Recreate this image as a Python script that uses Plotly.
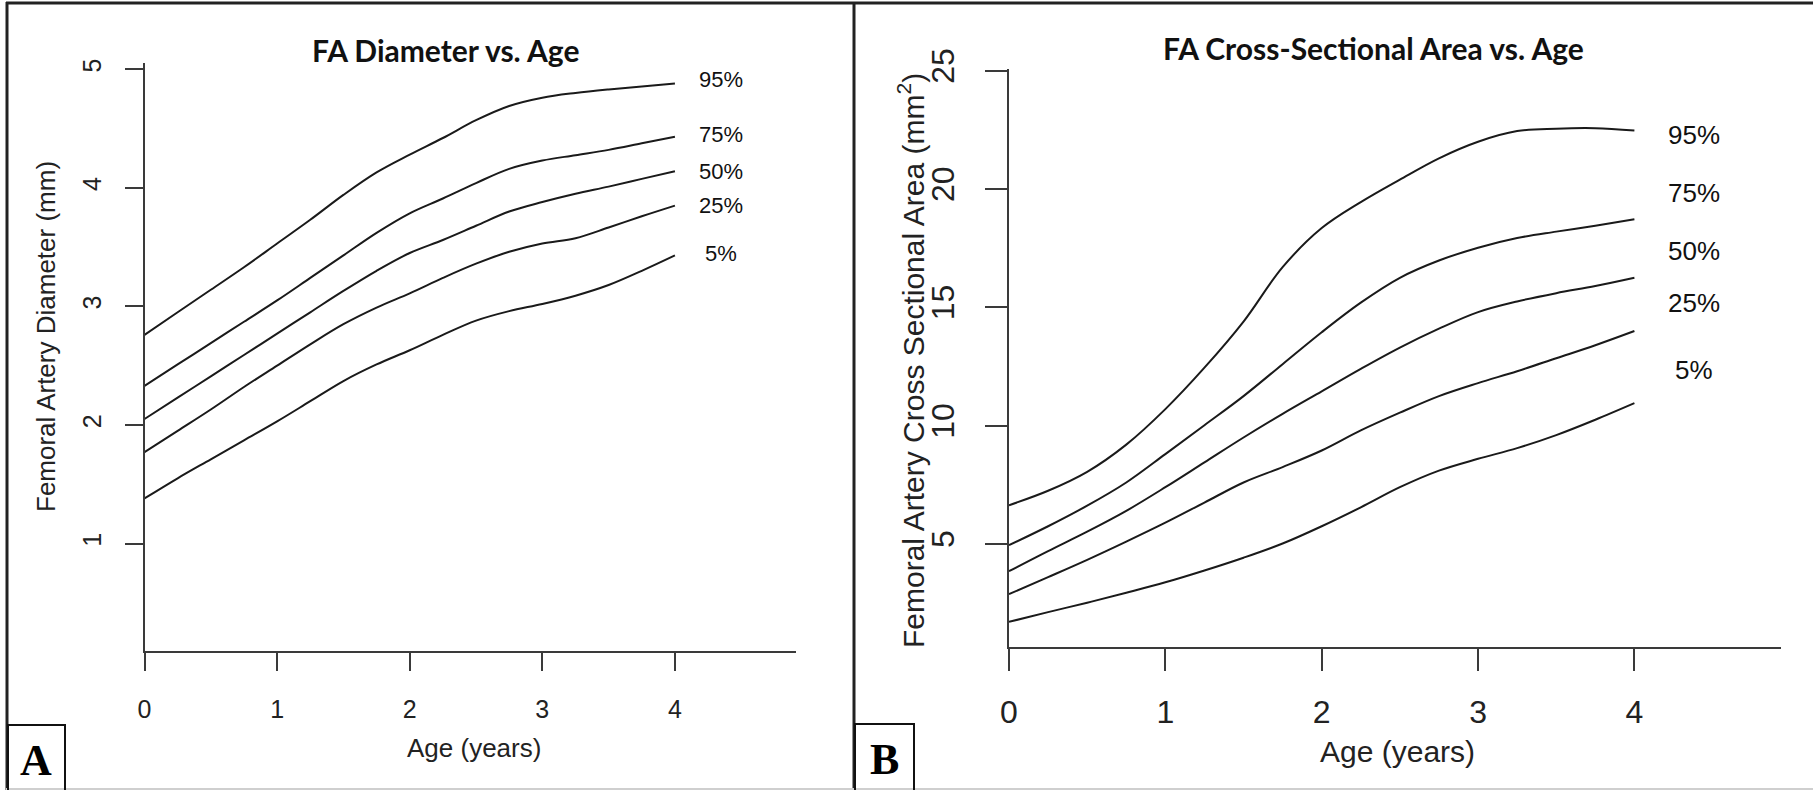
import plotly.graph_objects as go

W, H = 1813, 790

# ---------------- data ----------------
pct_labels = ["95%", "75%", "50%", "25%", "5%"]

age_a = [0, 0.25, 0.5, 0.75, 1, 1.25, 1.5, 1.75, 2, 2.25, 2.5, 2.75, 3, 3.25, 3.5, 3.75, 4]
dia_95 = [2.76, 2.95, 3.14, 3.33, 3.53, 3.73, 3.94, 4.13, 4.28, 4.42, 4.57, 4.69, 4.76, 4.80, 4.83, 4.855, 4.88]
dia_75 = [2.33, 2.51, 2.69, 2.87, 3.05, 3.24, 3.43, 3.62, 3.785, 3.91, 4.04, 4.16, 4.23, 4.275, 4.32, 4.375, 4.43]
dia_50 = [2.05, 2.23, 2.41, 2.59, 2.77, 2.95, 3.13, 3.30, 3.45, 3.56, 3.68, 3.80, 3.88, 3.95, 4.01, 4.075, 4.14]
dia_25 = [1.77, 1.95, 2.13, 2.32, 2.50, 2.68, 2.85, 2.99, 3.11, 3.24, 3.36, 3.46, 3.53, 3.575, 3.665, 3.76, 3.85]
dia_05 = [1.38, 1.55, 1.71, 1.87, 2.03, 2.20, 2.37, 2.51, 2.63, 2.76, 2.88, 2.96, 3.02, 3.09, 3.18, 3.30, 3.43]

age_b = [0, 0.25, 0.5, 0.75, 1, 1.25, 1.5, 1.75, 2, 2.25, 2.5, 2.75, 3, 3.25, 3.5, 3.75, 4]
area_95 = [6.64, 7.25, 8.05, 9.2, 10.7, 12.45, 14.4, 16.7, 18.35, 19.45, 20.4, 21.3, 22.0, 22.45, 22.55, 22.57, 22.47]
area_75 = [4.95, 5.75, 6.62, 7.6, 8.8, 10.02, 11.25, 12.6, 13.95, 15.2, 16.25, 16.98, 17.52, 17.93, 18.2, 18.45, 18.72]
area_50 = [3.85, 4.7, 5.52, 6.4, 7.4, 8.45, 9.5, 10.5, 11.45, 12.4, 13.3, 14.1, 14.8, 15.25, 15.6, 15.9, 16.25]
area_25 = [2.88, 3.6, 4.33, 5.1, 5.9, 6.75, 7.6, 8.25, 8.95, 9.8, 10.55, 11.25, 11.8, 12.3, 12.85, 13.4, 14.0]
area_05 = [1.71, 2.12, 2.52, 2.94, 3.38, 3.88, 4.42, 5.02, 5.75, 6.55, 7.4, 8.1, 8.6, 9.05, 9.6, 10.25, 10.95]

x_ticks = [0, 1, 2, 3, 4]
y_ticks_a = [1, 2, 3, 4, 5]
y_ticks_b = [5, 10, 15, 20, 25]

dia_series = [dia_95, dia_75, dia_50, dia_25, dia_05]
area_series = [area_95, area_75, area_50, area_25, area_05]

# ---------------- helpers ----------------
def px(x):
    return x / W

def py(y):
    return 1 - y / H

LINE = "#1a1a1a"
AXC = "#3a3a3a"
SANS = "Liberation Sans, Arial, sans-serif"
TITLEF = "Lato, Open Sans, sans-serif"

fig = go.Figure()

for s, lab in zip(dia_series, pct_labels):
    fig.add_trace(go.Scatter(x=age_a, y=s, mode="lines", name=lab,
                             line=dict(color=LINE, width=2, shape="spline", smoothing=1.0),
                             xaxis="x", yaxis="y", showlegend=False, hoverinfo="skip"))
for s, lab in zip(area_series, pct_labels):
    fig.add_trace(go.Scatter(x=age_b, y=s, mode="lines", name=lab,
                             line=dict(color=LINE, width=2, shape="spline", smoothing=1.0),
                             xaxis="x2", yaxis="y2", showlegend=False, hoverinfo="skip"))

# percentile labels
lab_off_a = [0.03, 0.02, 0.0, 0.0, 0.02]
lab_off_b = [-0.2, 1.1, 1.12, 1.2, 1.42]
annos = []
for s, lab, o in zip(dia_series, pct_labels, lab_off_a):
    annos.append(dict(x=4.35, y=s[-1] + o, xref="x", yref="y", text=lab, showarrow=False,
                      font=dict(family=SANS, size=22, color="#111"), xanchor="center", yanchor="middle"))
for s, lab, o in zip(area_series, pct_labels, lab_off_b):
    annos.append(dict(x=4.38, y=s[-1] + o, xref="x2", yref="y2", text=lab, showarrow=False,
                      font=dict(family=SANS, size=26, color="#111"), xanchor="center", yanchor="middle"))

# titles
annos.append(dict(x=px(445), y=py(50), xref="paper", yref="paper", text="<b>FA Diameter vs. Age</b>",
                  showarrow=False, font=dict(family=TITLEF, size=30, color="#111"),
                  xanchor="center", yanchor="middle"))
annos.append(dict(x=px(1373), y=py(48), xref="paper", yref="paper", text="<b>FA Cross-Sectional Area vs. Age</b>",
                  showarrow=False, font=dict(family=TITLEF, size=30, color="#111"),
                  xanchor="center", yanchor="middle"))
# axis titles
annos.append(dict(x=px(474), y=py(748), xref="paper", yref="paper", text="Age (years)", showarrow=False,
                  font=dict(family=SANS, size=26, color="#222"), xanchor="center", yanchor="middle"))
annos.append(dict(x=px(1397), y=py(751), xref="paper", yref="paper", text="Age (years)", showarrow=False,
                  font=dict(family=SANS, size=30, color="#222"), xanchor="center", yanchor="middle"))
annos.append(dict(x=px(46), y=py(337), xref="paper", yref="paper", text="Femoral Artery Diameter (mm)",
                  showarrow=False, textangle=-90,
                  font=dict(family=SANS, size=26, color="#222"), xanchor="center", yanchor="middle"))
annos.append(dict(x=px(911), y=py(361), xref="paper", yref="paper",
                  text="Femoral Artery Cross Sectional Area (mm<sup>2</sup>)",
                  showarrow=False, textangle=-90,
                  font=dict(family=SANS, size=30, color="#222"), xanchor="center", yanchor="middle"))
# panel letters
annos.append(dict(x=px(36), y=py(760), xref="paper", yref="paper", text="<b>A</b>", showarrow=False,
                  font=dict(family="Liberation Serif, Times New Roman, serif", size=44, color="#000"),
                  xanchor="center", yanchor="middle"))
annos.append(dict(x=px(884), y=py(759), xref="paper", yref="paper", text="<b>B</b>", showarrow=False,
                  font=dict(family="Liberation Serif, Times New Roman, serif", size=44, color="#000"),
                  xanchor="center", yanchor="middle"))

shapes = [
    dict(type="line", xref="paper", yref="paper", x0=px(6), x1=1, y0=py(3), y1=py(3),
         line=dict(color="#222", width=3)),
    dict(type="line", xref="paper", yref="paper", x0=px(7), x1=px(7), y0=py(2), y1=py(790),
         line=dict(color="#222", width=3)),
    dict(type="line", xref="paper", yref="paper", x0=px(854), x1=px(854), y0=py(2), y1=py(790),
         line=dict(color="#222", width=3)),
    dict(type="line", xref="paper", yref="paper", x0=px(6), x1=1, y0=py(789), y1=py(789),
         line=dict(color="#cfcfcf", width=2)),
    dict(type="rect", xref="paper", yref="paper", x0=px(8), x1=px(65), y0=py(725), y1=py(792),
         line=dict(color="#111", width=2)),
    dict(type="rect", xref="paper", yref="paper", x0=px(855), x1=px(914), y0=py(724), y1=py(792),
         line=dict(color="#111", width=2)),
]

def xaxis(domain, rng, fs, tlen, standoff, anchor):
    return dict(domain=domain, range=rng, tickvals=x_ticks, ticks="outside", ticklen=tlen, tickwidth=2,
                tickcolor=AXC, showline=True, linecolor=AXC, linewidth=2, showgrid=False, zeroline=False,
                tickfont=dict(family=SANS, size=fs, color="#222"), ticklabelstandoff=standoff,
                anchor=anchor, automargin=False, fixedrange=True)

def yaxis(domain, rng, ticks, fs, tlen, standoff, anchor):
    return dict(domain=domain, range=rng, tickvals=ticks, ticks="outside", ticklen=tlen, tickwidth=2,
                tickcolor=AXC, showline=True, linecolor=AXC, linewidth=2, showgrid=False, zeroline=False,
                tickangle=-90, tickfont=dict(family=SANS, size=fs, color="#222"),
                ticklabelstandoff=standoff, anchor=anchor, automargin=False, fixedrange=True)

fig.update_layout(
    template="none",
    width=W, height=H, margin=dict(l=0, r=0, t=0, b=0, pad=0, autoexpand=False),
    paper_bgcolor="white", plot_bgcolor="white",
    xaxis=xaxis([px(144.5), px(796.4)], [0, 4.916], 25, 18, 17, "y"),
    yaxis=yaxis([py(651.4), py(63.3)], [0.09, 5.05], y_ticks_a, 25, 18, 14, "x"),
    xaxis2=xaxis([px(1009), px(1780.6)], [0, 4.935], 32, 22, 14, "y2"),
    yaxis2=yaxis([py(646.7), py(69.3)], [0.66, 25.06], y_ticks_b, 32, 22, 18, "x2"),
    annotations=annos, shapes=shapes,
)

fig.write_html("out.html", config={"displayModeBar": False},
               post_script="document.body.style.margin='0';document.body.style.overflow='hidden';")
